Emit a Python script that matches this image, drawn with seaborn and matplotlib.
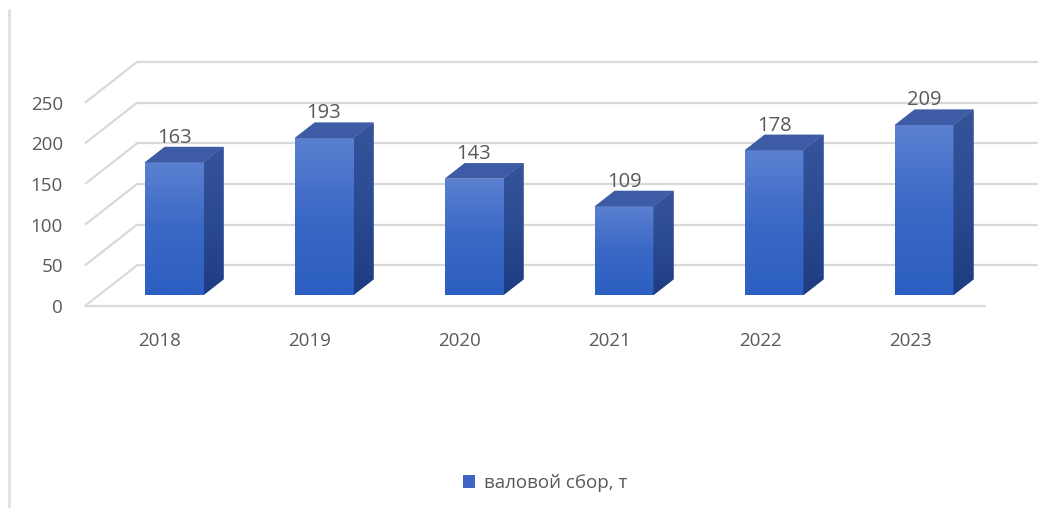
import numpy as np
import pandas as pd
import matplotlib
matplotlib.use("Agg")
import matplotlib.pyplot as plt
import seaborn as sns
from matplotlib.patches import Polygon, Patch
from matplotlib.colors import LinearSegmentedColormap
from matplotlib.lines import Line2D

years = ["2018", "2019", "2020", "2021", "2022", "2023"]
harvest = [163, 193, 143, 109, 178, 209]
y_ticks = [0, 50, 100, 150, 200, 250]
series_label = "валовой сбор, т"

sns.set_theme(style="white")
plt.rcParams["font.family"] = ["Open Sans", "DejaVu Sans"]

TEXT = "#595959"
GRID = "#d9d9d9"

# oblique projection of the depth axis (full depth, in category / value units)
DEPTH_X = 0.347
DEPTH_Y = 50.0
FRONT = 0.27    # depth at which the bars' front faces stand
THICK = 0.385   # depth of each bar
BAR_W = 0.393

front_cmap = LinearSegmentedColormap.from_list("front", ["#2c5fc2", "#3a68c6", "#5b80d0"])
side_cmap = LinearSegmentedColormap.from_list("side", ["#1e3c80", "#2a4a92", "#36549a"])
TOP_COLOR = "#3e5ca6"

fig = plt.figure(figsize=(10.58, 5.13), dpi=100)
ax = fig.add_axes([85 / 1058, (513 - 306) / 513, 952 / 1058, (306 - 62) / 513])

df = pd.DataFrame({"year": years, "value": harvest})
sns.barplot(data=df, x="year", y="value", width=BAR_W, color="#3a68c6",
            saturation=1, ax=ax, zorder=3)

n = len(years)

# walls: slanted side lines and back gridlines, plus the front edge of the floor
for v in y_ticks:
    ax.plot([-0.5, -0.5 + DEPTH_X], [v, v + DEPTH_Y], color=GRID, lw=1.6,
            zorder=1, clip_on=False, solid_capstyle="butt")
    ax.plot([-0.5 + DEPTH_X, n - 0.5 + DEPTH_X], [v + DEPTH_Y] * 2, color=GRID,
            lw=1.6, zorder=1, clip_on=False)
ax.plot([-0.5, n - 0.5], [0, 0], color=GRID, lw=1.6, zorder=1, clip_on=False)

grad = np.linspace(0, 1, 128).reshape(-1, 1)
dx = THICK * DEPTH_X
dy = THICK * DEPTH_Y

for patch, v in zip(ax.patches, harvest):
    w = patch.get_width()
    h = patch.get_height()
    x0 = patch.get_x() + FRONT * DEPTH_X
    y0 = FRONT * DEPTH_Y
    patch.set_x(x0)
    patch.set_y(y0)
    patch.set_edgecolor("none")

    im = ax.imshow(grad, extent=[x0, x0 + w, y0, y0 + h], origin="lower",
                   cmap=front_cmap, aspect="auto", zorder=3.1, interpolation="bilinear")
    im.set_clip_path(patch)

    side = Polygon([(x0 + w, y0), (x0 + w + dx, y0 + dy),
                    (x0 + w + dx, y0 + h + dy), (x0 + w, y0 + h)],
                   closed=True, facecolor="#2a4a92", edgecolor="none", zorder=3)
    ax.add_patch(side)
    ims = ax.imshow(grad, extent=[x0 + w, x0 + w + dx, y0, y0 + h + dy], origin="lower",
                    cmap=side_cmap, aspect="auto", zorder=3.1, interpolation="bilinear")
    ims.set_clip_path(side)

    top = Polygon([(x0, y0 + h), (x0 + w, y0 + h),
                   (x0 + w + dx, y0 + h + dy), (x0 + dx, y0 + h + dy)],
                  closed=True, facecolor=TOP_COLOR, edgecolor="none", zorder=3.2)
    ax.add_patch(top)

    ax.text(x0 + w / 2, y0 + h + dy + 11, f"{v}", ha="center", va="center",
            fontsize=14.5, color=TEXT, zorder=4)

ax.set_xlim(-0.5, n - 0.5 + DEPTH_X)
ax.set_ylim(0, y_ticks[-1] + DEPTH_Y)
ax.set_yticks(y_ticks)
ax.set_yticklabels([str(t) for t in y_ticks])
ax.set_xlabel("")
ax.set_ylabel("")
ax.tick_params(axis="both", length=0, labelsize=13.5, labelcolor=TEXT)
ax.tick_params(axis="y", pad=16)
ax.tick_params(axis="x", pad=19)
for s in ax.spines.values():
    s.set_visible(False)
ax.set_facecolor("none")

fig.legend(handles=[Patch(facecolor="#3f66c4", edgecolor="none")], labels=[series_label],
           loc="center", bbox_to_anchor=(545 / 1058, (513 - 483) / 513), frameon=False,
           handlelength=0.65, handleheight=0.65, handletextpad=0.45,
           prop={"size": 13.5}, labelcolor=TEXT)

# chart frame edge on the left
fig.add_artist(Line2D([9 / 1058, 9 / 1058], [(513 - 10) / 513, (513 - 506) / 513],
                      color="#e2e2e2", lw=2.2))

fig.savefig("out.png", dpi=100, facecolor="white")
